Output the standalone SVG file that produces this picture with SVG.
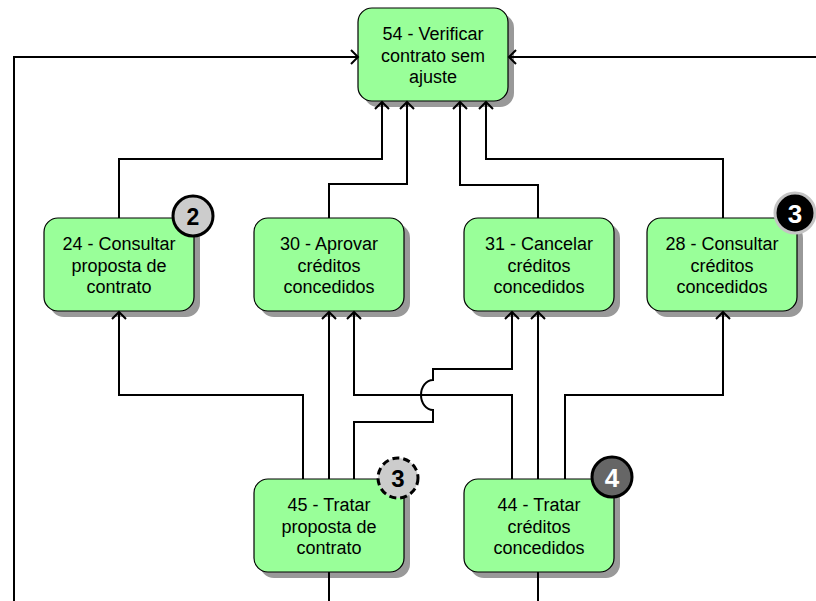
<svg xmlns="http://www.w3.org/2000/svg" width="816" height="601" viewBox="0 0 816 601">
  <defs>
    <marker id="arrow" markerUnits="userSpaceOnUse" markerWidth="20" markerHeight="20" viewBox="-10 -10 20 20" refX="0" refY="0" orient="auto">
      <path d="M-7,-7 L0,0 L-7,7" fill="none" stroke="#000" stroke-width="2"/>
    </marker>
  </defs>
  <style>
    .shadow { fill: #999999; }
    .box { fill: #99ff99; stroke: #000; stroke-width: 1.2; }
    .label { font-family: "Liberation Sans", Arial, sans-serif; font-size: 18px; fill: #000; text-anchor: middle; }
    .wire { fill: none; stroke: #000; stroke-width: 2; }
    .arrowed { marker-end: url(#arrow); }
    .badge-text { font-family: "Liberation Sans", Arial, sans-serif; font-weight: bold; text-anchor: middle; }
  </style>
  <rect width="816" height="601" fill="#fff"/>

  <!-- activity boxes -->
  <g id="n54">
    <rect class="shadow" x="364" y="14" width="150" height="93" rx="14"/>
    <rect class="box" x="358" y="8" width="150" height="93" rx="14"/>
    <text class="label" x="433" y="40">54 - Verificar</text>
    <text class="label" x="433" y="62">contrato sem</text>
    <text class="label" x="433" y="83">ajuste</text>
  </g>
  <g id="n24">
    <rect class="shadow" x="50" y="224" width="150" height="93" rx="14"/>
    <rect class="box" x="44" y="218" width="150" height="93" rx="14"/>
    <text class="label" x="119" y="250">24 - Consultar</text>
    <text class="label" x="119" y="272">proposta de</text>
    <text class="label" x="119" y="293">contrato</text>
    <circle cx="193" cy="216" r="20" fill="#cccccc" stroke="#000" stroke-width="3"/>
    <text class="badge-text" x="193" y="224.5" font-size="23" fill="#000">2</text>
  </g>
  <g id="n30">
    <rect class="shadow" x="260" y="224" width="150" height="93" rx="14"/>
    <rect class="box" x="254" y="218" width="150" height="93" rx="14"/>
    <text class="label" x="329" y="250">30 - Aprovar</text>
    <text class="label" x="329" y="272">créditos</text>
    <text class="label" x="329" y="293">concedidos</text>
  </g>
  <g id="n31">
    <rect class="shadow" x="470" y="224" width="150" height="93" rx="14"/>
    <rect class="box" x="464" y="218" width="150" height="93" rx="14"/>
    <text class="label" x="539" y="250">31 - Cancelar</text>
    <text class="label" x="539" y="272">créditos</text>
    <text class="label" x="539" y="293">concedidos</text>
  </g>
  <g id="n28">
    <rect class="shadow" x="653" y="224" width="150" height="93" rx="14"/>
    <rect class="box" x="647" y="218" width="150" height="93" rx="14"/>
    <text class="label" x="722" y="250">28 - Consultar</text>
    <text class="label" x="722" y="272">créditos</text>
    <text class="label" x="722" y="293">concedidos</text>
    <circle cx="795" cy="213" r="20" fill="#000" stroke="#c4c4c4" stroke-width="3"/>
    <text class="badge-text" x="795" y="222.5" font-size="26" fill="#fff">3</text>
  </g>
  <g id="n45">
    <rect class="shadow" x="260" y="485" width="150" height="93" rx="14"/>
    <rect class="box" x="254" y="479" width="150" height="93" rx="14"/>
    <text class="label" x="329" y="511">45 - Tratar</text>
    <text class="label" x="329" y="533">proposta de</text>
    <text class="label" x="329" y="554">contrato</text>
    <circle cx="398" cy="478" r="20" fill="#cccccc" stroke="#000" stroke-width="3" stroke-dasharray="7 4"/>
    <text class="badge-text" x="398" y="486.5" font-size="24" fill="#000">3</text>
  </g>
  <g id="n44">
    <rect class="shadow" x="470" y="485" width="150" height="93" rx="14"/>
    <rect class="box" x="464" y="479" width="150" height="93" rx="14"/>
    <text class="label" x="539" y="511">44 - Tratar</text>
    <text class="label" x="539" y="533">créditos</text>
    <text class="label" x="539" y="554">concedidos</text>
    <circle cx="612" cy="477" r="20" fill="#666666" stroke="#000" stroke-width="3"/>
    <text class="badge-text" x="612" y="486.5" font-size="26" fill="#fff">4</text>
  </g>

  <!-- flows -->
  <g id="connectors">
    <path class="wire arrowed" d="M14,601 V57 H358"/>
    <path class="wire arrowed" d="M816,57 H509"/>
    <path class="wire arrowed" d="M119,218 V159 H382 V102"/>
    <path class="wire arrowed" d="M329,218 V184 H407 V102"/>
    <path class="wire arrowed" d="M538,218 V185 H460 V102"/>
    <path class="wire arrowed" d="M723,218 V159 H486 V102"/>
    <path class="wire arrowed" d="M303,479 V395 H119 V312"/>
    <path class="wire arrowed" d="M329,479 V312"/>
    <path class="wire arrowed" d="M354,479 V422 H433 V410 A12 15 0 0 1 433 380 V369 H512 V312"/>
    <path class="wire arrowed" d="M512,479 V395 H354 V312"/>
    <path class="wire arrowed" d="M538,479 V312"/>
    <path class="wire arrowed" d="M565,479 V395 H723 V312"/>
    <path class="wire" d="M329,572 V601"/>
    <path class="wire" d="M538,572 V601"/>
  </g>
</svg>
